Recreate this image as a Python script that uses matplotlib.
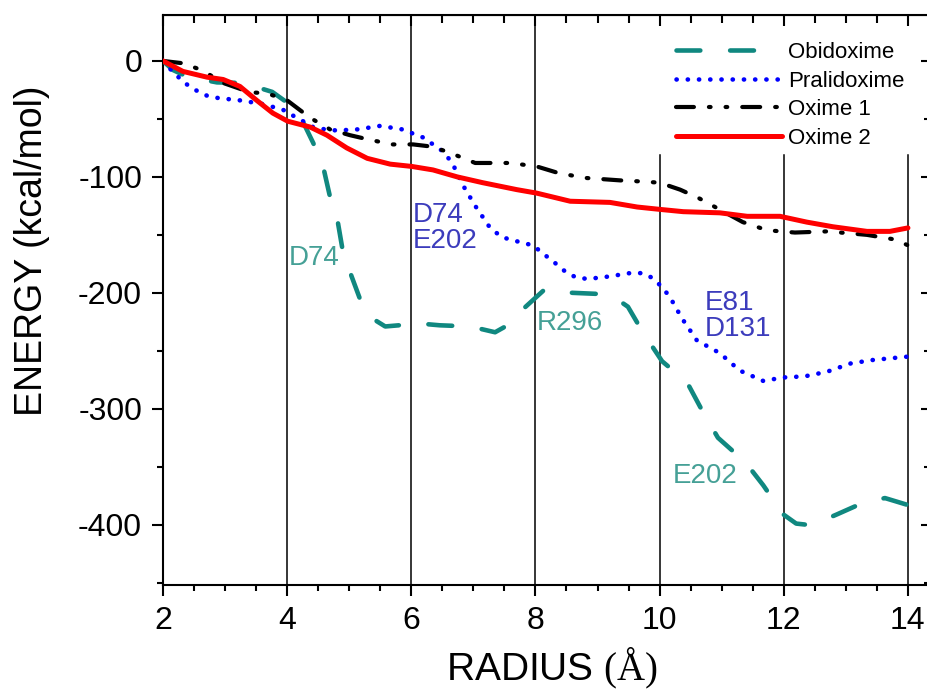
import matplotlib
matplotlib.use("Agg")
import matplotlib.pyplot as plt
from matplotlib.ticker import MultipleLocator

plt.rcParams['font.family'] = ['Liberation Sans', 'DejaVu Sans']
plt.rcParams['mathtext.fontset'] = 'custom'
plt.rcParams['mathtext.rm'] = 'Liberation Serif'
plt.rcParams['axes.unicode_minus'] = False

# values (radius in A, energy in kcal/mol)
obi_x = [2.0, 2.16, 2.4, 2.87, 3.29, 3.76, 4.16, 4.42, 4.58, 4.69, 4.82, 4.90, 5.04,
         5.22, 5.4, 5.58, 5.8, 6.03, 6.46, 6.95, 7.35, 7.55, 7.78, 8.15, 8.35, 8.60,
         9.04, 9.3, 9.49, 9.73, 10.04, 10.44, 10.70, 10.94, 11.38, 11.67, 11.99, 12.2,
         12.37, 12.6, 12.86, 13.28, 13.63, 14.0]
obi_y = [0, -7.8, -13.8, -18.5, -19, -26.7, -42, -70.7, -91, -117, -140, -165, -186,
         -212, -223, -229, -228, -226, -228, -229, -234, -228, -215, -197, -199, -200,
         -201, -205, -212, -234, -259, -277, -303, -325, -346, -366, -391, -399,
         -400, -397, -391, -381, -377, -383]

pral_x = [2.0, 2.16, 2.35, 2.52, 2.71, 2.89, 3.24, 3.59, 3.93, 4.09, 4.29, 4.45, 4.80,
          5.14, 5.50, 5.85, 6.19, 6.51, 6.66, 6.83, 7.03, 7.27, 7.46, 7.80, 7.96, 8.12,
          8.31, 8.51, 8.67, 8.85, 9.17, 9.52, 9.72, 9.88, 10.04, 10.17, 10.36, 10.60,
          10.97, 11.29, 11.67, 11.99, 12.34, 12.70, 13.07, 13.42, 14.0]
pral_y = [0, -9.5, -19, -25, -30, -32, -34, -37, -42, -47, -53, -58, -60,
          -59, -56, -59, -66, -78, -88, -107, -125, -144, -152, -157, -159, -166,
          -174, -183, -187, -188, -186, -183, -183, -187, -195, -204, -222, -241,
          -252, -267, -276, -273, -272, -268, -261, -258, -255]

ox1_x = [2.0, 2.32, 2.63, 2.97, 3.40, 3.68, 4.0, 4.37, 4.69, 5.01, 5.33, 5.70, 6.03,
         6.35, 6.66, 7.03, 7.59, 8.02, 8.39, 8.83, 9.36, 9.72, 10.0, 10.33, 10.62,
         11.34, 11.73, 12.18, 12.70, 13.34, 13.79, 14.0]
ox1_y = [0, -2, -8, -19, -27, -28, -34, -49, -59, -64, -68, -72, -72,
         -74, -80, -88, -88, -91, -97, -101, -103, -104, -105, -111, -118,
         -139, -146, -148, -147, -150, -154, -159]

ox2_x = [2.0, 2.32, 2.71, 2.97, 3.24, 3.51, 3.77, 4.01, 4.37, 4.64, 4.96, 5.29, 5.66,
         6.01, 6.35, 6.74, 7.15, 7.70, 8.02, 8.56, 9.2, 9.64, 10.0, 10.38, 10.97,
         11.41, 11.94, 12.37, 12.79, 13.34, 13.71, 14.0]
ox2_y = [0, -9, -14, -16, -22, -34, -45, -52, -57, -64, -75, -84, -89,
         -91, -94, -100, -105, -111, -114, -121, -122, -126, -128, -130, -131,
         -134, -134, -139, -143, -147, -147, -144]

full_lines = [4, 6, 8]
short_lines = [10, 12, 14]
x_ticks = [2, 4, 6, 8, 10, 12, 14]
y_ticks = [0, -100, -200, -300, -400]

teal = '#108880'
teal_txt = '#45a096'
blue_txt = '#3c3cbc'

fig = plt.figure(figsize=(9.28, 6.89), dpi=100)
# right spine sits just outside the canvas, like in the original
ax = fig.add_axes([0.1756, 0.1509, 0.8282, 0.8273])

ymin, ymax = -452, 39.6
for xv in full_lines:
    ax.plot([xv, xv], [ymin, ymax], color='black', lw=1.1, zorder=1)
for xv in short_lines:
    ax.plot([xv, xv], [ymin, -81], color='black', lw=1.1, zorder=1)

ax.plot(obi_x, obi_y, color=teal, lw=3.3, dashes=(5.2, 6.5),
        dash_capstyle='round', label='Obidoxime', zorder=3)
ax.plot(pral_x, pral_y, color='#0000ff', lw=3.3, dashes=(0.05, 2.4),
        dash_capstyle='round', label='Pralidoxime', zorder=3)
ax.plot(ox1_x, ox1_y, color='black', lw=3.0,
        dashes=(4.3, 3.6, 0.4, 3.6, 0.4, 3.6), dash_capstyle='round',
        label='Oxime 1', zorder=3)
ax.plot(ox2_x, ox2_y, color='#ff0000', lw=3.6, solid_capstyle='round',
        label='Oxime 2', zorder=4)

ax.set_xlim(2, 14.38)
ax.set_ylim(ymin, ymax)
ax.set_xticks(x_ticks)
ax.set_yticks(y_ticks)
ax.xaxis.set_minor_locator(MultipleLocator(0.5))
ax.yaxis.set_minor_locator(MultipleLocator(50))

for sp in ax.spines.values():
    sp.set_linewidth(1.5)
ax.tick_params(which='both', direction='out', width=1.5, labelsize=23)
ax.tick_params(which='major', length=8, pad=7)
ax.tick_params(which='minor', length=4.5)

# mirrored ticks on top and right, pointing inwards
top = ax.secondary_xaxis('top')
top.set_xticks(x_ticks)
top.xaxis.set_minor_locator(MultipleLocator(0.5))
top.tick_params(which='both', direction='in', width=1.5, labeltop=False)
top.tick_params(which='major', length=8)
top.tick_params(which='minor', length=6)
right = ax.secondary_yaxis('right')
right.set_yticks(y_ticks)
right.yaxis.set_minor_locator(MultipleLocator(50))
right.tick_params(which='both', direction='in', width=1.5, labelright=False)
right.tick_params(which='major', length=8)
right.tick_params(which='minor', length=6)

ax.text(4.02, -170, 'D74', color=teal_txt, fontsize=20, va='center', ha='left')
ax.text(6.03, -144, 'D74\nE202', color=blue_txt, fontsize=20, va='center',
        ha='left', linespacing=1.0)
ax.text(8.02, -226, 'R296', color=teal_txt, fontsize=20, va='center', ha='left')
ax.text(10.73, -220, 'E81\nD131', color=blue_txt, fontsize=20, va='center',
        ha='left', linespacing=1.0)
ax.text(10.21, -358, 'E202', color=teal_txt, fontsize=20, va='center', ha='left')

ax.legend(loc='upper left', bbox_to_anchor=(676 / 928, 1 - 42 / 689),
          bbox_transform=fig.transFigure, frameon=False, fontsize=16,
          handlelength=4.75, handletextpad=0.28, labelspacing=0.34,
          borderpad=0, borderaxespad=0)

fig.text(32 / 928, 1 - 251 / 689, 'ENERGY (kcal/mol)', rotation=90,
         fontsize=27, ha='center', va='center')
fig.text(552 / 928, 0.013, r'RADIUS $\mathrm{(Å)}$', fontsize=28,
         ha='center', va='baseline')

fig.savefig('out.png', dpi=100)
